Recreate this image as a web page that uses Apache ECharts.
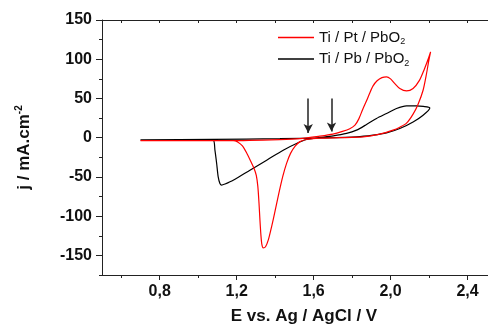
<!DOCTYPE html>
<html><head><meta charset="utf-8">
<script src="https://cdn.jsdelivr.net/npm/echarts@6/dist/echarts.min.js"></script>
<style>html,body{margin:0;padding:0;background:#fff}#c{width:488px;height:324px}</style>
</head><body><div id="c"></div>
<script>
// ---- data (E in V vs Ag/AgCl, j in mA.cm-2) ----
var seriesNames = ['Ti / Pt / PbO2', 'Ti / Pb / PbO2'];
var seriesColors = ['#ff0000', '#000000'];
// Ti/Pt/PbO2 (red) forward scan
var redFwdE = [0.70, 1.165, 1.425, 1.529, 1.632, 1.700, 1.750, 1.788, 1.815, 1.835, 1.855, 1.875, 1.892, 1.909, 1.930, 1.955, 1.979, 2.000, 2.020, 2.048, 2.083, 2.117, 2.150, 2.175, 2.195, 2.208];
var redFwdJ = [-3.8, -3.8, -2.5, -1.3, 1.9, 4.5, 8.0, 11.5, 16.0, 24.0, 36.0, 47.0, 57.0, 66.0, 72.5, 76.5, 77.5, 75.0, 69.5, 62.7, 59.6, 62.7, 73.0, 87.0, 100.0, 109.4];
// Ti/Pt/PbO2 (red) reverse scan
var redRevE = [2.197, 2.187, 2.169, 2.143, 2.117, 2.083, 2.048, 2.013, 1.944, 1.857, 1.736, 1.632, 1.563, 1.529, 1.505, 1.480, 1.459, 1.440, 1.420, 1.400, 1.382, 1.365, 1.350, 1.338, 1.331, 1.326, 1.321, 1.316, 1.310, 1.302, 1.290, 1.275, 1.252, 1.230, 1.205, 1.182, 0.70];
var redRevJ = [96.0, 81.8, 60.5, 42.7, 30.0, 18.5, 13.4, 9.6, 4.5, 1.0, 0.0, -0.6, -2.3, -5.0, -10.5, -20.0, -33.0, -49.0, -70.0, -93.0, -113.0, -130.0, -139.0, -140.5, -136.0, -124.0, -105.0, -83.0, -62.0, -48.0, -39.0, -31.0, -19.5, -10.5, -5.5, -3.8, -3.8];
// Ti/Pb/PbO2 (black) forward scan
var blkFwdE = [0.70, 1.077, 1.425, 1.65, 1.823, 1.909, 1.979, 2.048, 2.117, 2.169, 2.204];
var blkFwdJ = [-2.8, -2.2, -1.3, -0.3, 1.0, 3.2, 6.1, 11.7, 20.1, 28.7, 38.0];
// Ti/Pb/PbO2 (black) reverse scan
var blkRevE = [2.170, 2.135, 2.083, 2.031, 1.979, 1.927, 1.875, 1.823, 1.771, 1.702, 1.615, 1.563, 1.511, 1.442, 1.356, 1.269, 1.182, 1.140, 1.122, 1.113, 1.104, 1.096, 1.087, 1.078, 1.009, 0.70];
var blkRevJ = [39.8, 40.5, 40.5, 37.2, 30.8, 24.5, 16.8, 9.6, 5.4, 2.3, -0.3, -2.3, -7.4, -15.9, -28.7, -41.4, -54.2, -59.0, -60.5, -58.4, -50, -32.9, -15.9, -3.2, -2.5, -2.8];
// arrows
var arrowE = [1.572, 1.693];
var arrowTopJ = [50, 50];
var arrowTipJ = [6, 8];
// ticks
var xLabels = [0.8, 1.2, 1.6, 2.0, 2.4];
var xMinor = [0.6, 1.0, 1.4, 1.8, 2.2, 2.6];
var xAll = [0.6, 0.8, 1.0, 1.2, 1.4, 1.6, 1.8, 2.0, 2.2, 2.4, 2.6];
var yLabels = [-150, -100, -50, 0, 50, 100, 150];
var yMinor = [-175, -125, -75, -25, 25, 75, 125];

function zip(a, b) { var r = []; for (var i = 0; i < a.length; i++) r.push([a[i], b[i]]); return r; }
var redData = zip(redFwdE, redFwdJ).concat(zip(redRevE, redRevJ));
var blkData = zip(blkFwdE, blkFwdJ).concat(zip(blkRevE, blkRevJ));
var arrows = arrowE.map(function (e, i) { return [{ coord: [e, arrowTopJ[i]] }, { coord: [e, arrowTipJ[i]] }]; });

var FONT = '"Liberation Sans", Arial, sans-serif';
var AX = '#222';
var chart = echarts.init(document.getElementById('c'), null, { renderer: 'canvas' });
var baseX = { type: 'value', min: 0.5, max: 2.6, gridIndex: 0, splitLine: { show: false } };
chart.setOption({
  animation: false,
  backgroundColor: '#fff',
  grid: { left: 102, top: 20, width: 404, height: 255, outerBoundsMode: 'none', containLabel: false },
  legend: {
    orient: 'vertical', left: 273, top: 25, itemWidth: 36, itemHeight: 1.3, itemGap: 5,
    data: seriesNames.map(function (n, i) {
      return { name: n, icon: 'rect', itemStyle: { color: seriesColors[i], borderWidth: 0 } };
    }),
    formatter: function (n) { return n.replace('PbO2', 'PbO{sub|2}'); },
    textStyle: { fontFamily: FONT, fontSize: 15, color: '#111',
      rich: { sub: { fontFamily: FONT, fontSize: 9, color: '#111', padding: [9, 0, 0, 0] } } }
  },
  xAxis: [
    Object.assign({}, baseX, {
      position: 'bottom',
      name: 'E vs. Ag / AgCl / V', nameLocation: 'middle', nameGap: 33,
      nameTextStyle: { fontFamily: FONT, fontSize: 17, fontWeight: 'bold', color: '#111' },
      axisLine: { show: true, onZero: false, lineStyle: { color: AX, width: 1 } },
      axisTick: { show: true, inside: false, length: 5, customValues: xLabels, lineStyle: { color: AX } },
      axisLabel: { show: true, margin: 9, customValues: xLabels, fontFamily: FONT, fontSize: 16, fontWeight: 'bold', color: '#111',
        formatter: function (v) { return v.toFixed(1).replace('.', ','); } }
    }),
    Object.assign({}, baseX, {
      position: 'bottom',
      axisLine: { show: false, onZero: false },
      axisTick: { show: true, inside: false, length: 3, customValues: xMinor, lineStyle: { color: AX } },
      axisLabel: { show: false }
    }),
    Object.assign({}, baseX, {
      position: 'top',
      axisLine: { show: true, onZero: false, lineStyle: { color: AX, width: 1 } },
      axisTick: { show: true, inside: true, length: 3, customValues: xAll, lineStyle: { color: AX } },
      axisLabel: { show: false }
    })
  ],
  yAxis: [
    {
      type: 'value', min: -175, max: 150, position: 'left', splitLine: { show: false },
      name: 'j / mA.cm{sup|-2}', nameLocation: 'middle', nameGap: 68, nameRotate: 90,
      nameTextStyle: { fontFamily: FONT, fontSize: 17, fontWeight: 'bold', color: '#111',
        rich: { sup: { fontFamily: FONT, fontSize: 10, fontWeight: 'bold', color: '#111', padding: [0, 0, 10, 0] } } },
      axisLine: { show: true, onZero: false, lineStyle: { color: AX, width: 1 } },
      axisTick: { show: true, inside: false, length: 6, customValues: yLabels, lineStyle: { color: AX } },
      axisLabel: { show: true, margin: 10, customValues: yLabels, fontFamily: FONT, fontSize: 16, fontWeight: 'bold', color: '#111' }
    },
    {
      type: 'value', min: -175, max: 150, position: 'left', splitLine: { show: false },
      axisLine: { show: false, onZero: false },
      axisTick: { show: true, inside: false, length: 3, customValues: yMinor, lineStyle: { color: AX } },
      axisLabel: { show: false }
    }
  ],
  series: [
    {
      name: seriesNames[1], type: 'line', xAxisIndex: 0, yAxisIndex: 0, data: blkData,
      smooth: 0.25, symbol: 'none', lineStyle: { color: seriesColors[1], width: 1.2 }, itemStyle: { color: seriesColors[1] },
      markLine: { silent: true, symbol: ['none', 'arrow'], symbolSize: [7, 9], label: { show: false },
        lineStyle: { color: '#222', width: 1.5, type: 'solid' }, data: arrows }
    },
    {
      name: seriesNames[0], type: 'line', xAxisIndex: 0, yAxisIndex: 0, data: redData,
      smooth: 0.25, symbol: 'none', lineStyle: { color: seriesColors[0], width: 1.2 }, itemStyle: { color: seriesColors[0] }
    }
  ]
});
</script></body></html>
